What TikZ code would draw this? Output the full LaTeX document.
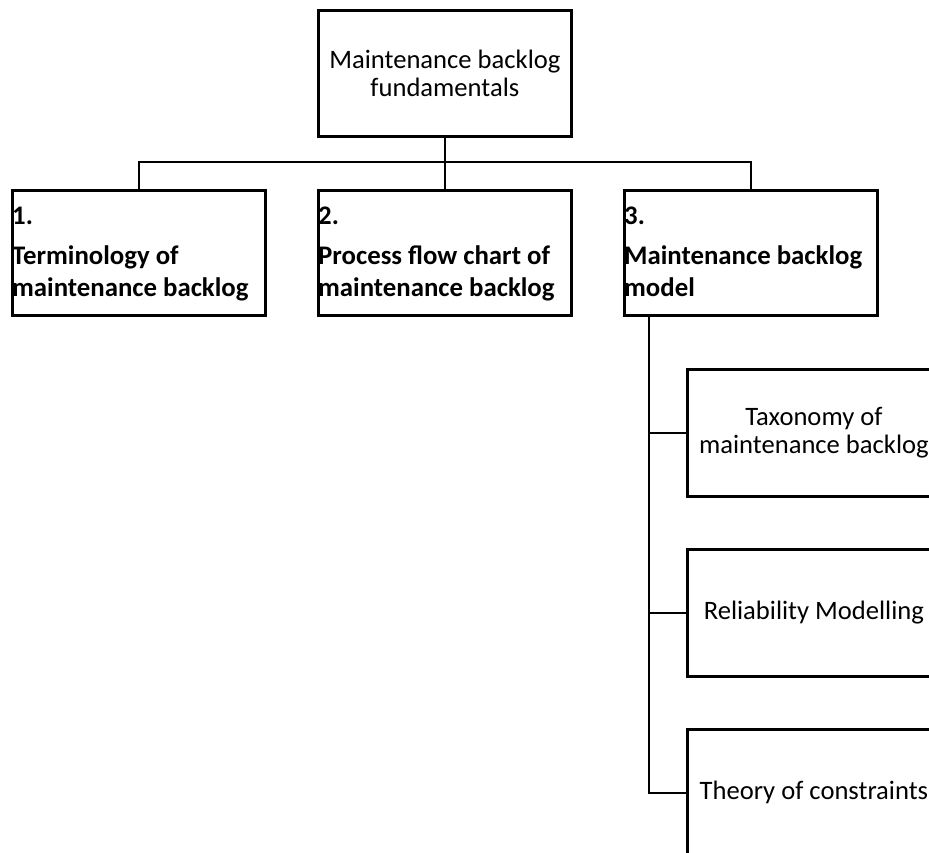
\documentclass[tikz,border=0pt]{standalone}
\usepackage{fontspec}
\setmainfont{Carlito}
\begin{document}
\begin{tikzpicture}[x=1pt,y=-1pt,
  box/.style={draw, line width=2.8pt, minimum width=253pt, minimum height=126pt,
              inner sep=0pt, anchor=north west},
  plain/.style={font=\fontsize{26.6}{28}\selectfont, align=center},
  head/.style={font=\fontsize{26.8}{31}\selectfont\bfseries, anchor=base west, inner sep=0pt},
  link/.style={line width=2.8pt, line join=miter}]
\useasboundingbox (0,0) rectangle (929,853);
\clip (0,0) rectangle (929,853);

% root
\node[box, plain] (root) at (317,9) {Maintenance backlog\\fundamentals};

% first level
\node[box, minimum height=125pt] (b1) at (11,189) {};
\node[box, minimum height=125pt] (b2) at (317,189) {};
\node[box, minimum height=125pt] (b3) at (623,189) {};

\node[head] (b1a) at (12,225) {1.};
\node[head] (b1b) at (12,265) {Terminology of};
\node[head] (b1c) at (12,296) {maintenance backlog};

\node[head] (b2a) at (318,225) {2.};
\node[head] (b2b) at (318,265) {Process flow chart of};
\node[head] (b2c) at (318,296) {maintenance backlog};

\node[head] (b3a) at (624,225) {3.};
\node[head] (b3b) at (624,265) {Maintenance backlog};
\node[head] (b3c) at (624,296) {model};

% second level under item 3
\node[box, plain, minimum height=127pt] (c1) at (686,368) {Taxonomy of\\maintenance backlog};
\node[box, plain, minimum height=127pt] (c2) at (686,548) {Reliability Modelling};
\node[box, plain, minimum height=127pt] (c3) at (686,728) {Theory of constraints};

% connectors
\coordinate (bus) at (root.south |- 0,162);
\draw[link] (root.south) -- (bus);
\draw[link] (bus) -| (b1.north);
\draw[link] (bus) -| (b3.north);
\draw[link] (bus) -- (b2.north);

\coordinate (spine) at ([xshift=26pt]b3.south west);
\draw[link] (spine) |- (c1.west);
\draw[link] (spine) |- (c2.west);
\draw[link] (spine) |- (c3.west);
\end{tikzpicture}
\end{document}
